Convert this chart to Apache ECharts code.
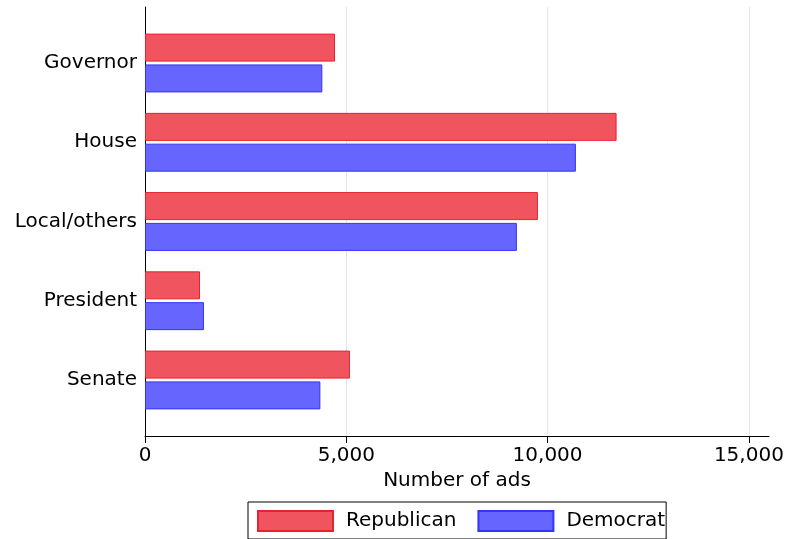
<!DOCTYPE html>
<html><head><meta charset="utf-8">
<script src="https://cdn.jsdelivr.net/npm/echarts@6/dist/echarts.min.js"></script>
<style>html,body{margin:0;padding:0;background:#fff}#c{width:788px;height:539px}</style>
</head><body><div id="c"></div>
<script>
const categories = ['Governor', 'House', 'Local/others', 'President', 'Senate'];
const republican = [4720, 11714, 9760, 1366, 5091];
const democrat = [4405, 10703, 9238, 1465, 4356];
const xTicks = [0, 5000, 10000, 15000];
const FONT = 'DejaVu Sans';
const FS = 20;

const chart = echarts.init(document.getElementById('c'), null, {renderer: 'canvas'});
chart.setOption({
  animation: false,
  textStyle: {fontFamily: FONT},
  grid: [
    {left: 145, right: 19, top: 7, bottom: 103},
    {left: 145, right: 19, top: 23.4, bottom: 119.4}
  ],
  xAxis: [
    {gridIndex: 0, type: 'value', min: 0, max: 15500,
      name: 'Number of ads', nameLocation: 'middle', nameGap: 32,
      nameTextStyle: {fontFamily: FONT, fontSize: FS, color: '#000'},
      axisLine: {show: true, lineStyle: {color: '#000', width: 1}},
      axisTick: {show: true, length: 7, lineStyle: {color: '#000'}, customValues: xTicks},
      axisLabel: {fontFamily: FONT, fontSize: FS, color: '#000', margin: 10, customValues: xTicks,
        formatter: v => v.toLocaleString('en-US')},
      splitLine: {show: true, lineStyle: {color: '#e6e6e6', width: 1}}
    },
    {gridIndex: 1, type: 'value', min: 0, max: 15500, show: false}
  ],
  yAxis: [
    {gridIndex: 0, type: 'value', min: 0, max: 1,
      axisLine: {show: true, lineStyle: {color: '#000', width: 1}},
      axisTick: {show: false}, axisLabel: {show: false}, splitLine: {show: false}},
    {gridIndex: 1, type: 'category', data: categories, inverse: true,
      axisLine: {show: false}, axisTick: {show: false},
      axisLabel: {fontFamily: FONT, fontSize: FS, color: '#000', margin: 8}}
  ],
  legend: {
    left: 248, top: 502, orient: 'horizontal',
    itemWidth: 75, itemHeight: 20, itemGap: 21,
    padding: [8, 1, 7, 9],
    borderColor: '#000', borderWidth: 1, borderRadius: 0,
    icon: 'rect',
    textStyle: {fontFamily: FONT, fontSize: FS, color: '#000', padding: [0, 0, 0, 8]},
    data: ['Republican', 'Democrat']
  },
  series: [
    {name: 'Republican', type: 'bar', xAxisIndex: 1, yAxisIndex: 1, data: republican,
      barWidth: 28, barGap: '10%',
      itemStyle: {color: '#f0555f', borderColor: '#e8212e', borderWidth: 1}},
    {name: 'Democrat', type: 'bar', xAxisIndex: 1, yAxisIndex: 1, data: democrat,
      barWidth: 28, barGap: '10%',
      itemStyle: {color: '#6666ff', borderColor: '#3333ff', borderWidth: 1}}
  ]
});
</script></body></html>
